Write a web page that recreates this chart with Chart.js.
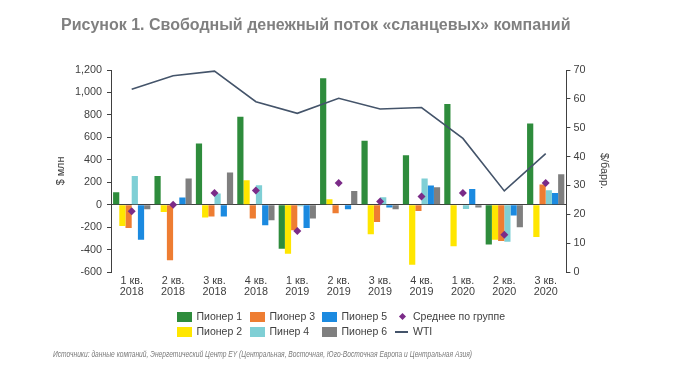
<!DOCTYPE html>
<html>
<head>
<meta charset="utf-8">
<script src="https://cdn.jsdelivr.net/npm/chart.js@4.4.1/dist/chart.umd.min.js"></script>
<style>
  html, body { margin: 0; padding: 0; background: #fff; }
  body { width: 700px; height: 379px; position: relative; overflow: hidden; font-family: 'Liberation Sans', Arial, sans-serif; }
  #wrap { position: absolute; left: 0; top: 0; width: 700px; height: 379px; }
  #title { position: absolute; left: 61px; top: 16px; font-size: 16px; font-weight: bold; color: #808080; white-space: nowrap; }
  #source { position: absolute; left: 53px; top: 349px; font-size: 9px; font-style: italic; color: #7a7a7a; white-space: nowrap; transform-origin: 0 50%; }
  .lg { position: absolute; font-size: 10.5px; color: #404040; white-space: nowrap; line-height: 12px; }
  .box { position: absolute; width: 15px; height: 10px; }
</style>
</head>
<body>
<div id="wrap"><canvas id="c" width="700" height="379"></canvas></div>
<div id="title">Рисунок 1. Свободный денежный поток «сланцевых» компаний</div>
<div id="legend"></div>
<div id="source">Источники: данные компаний, Энергетический Центр EY (Центральная, Восточная, Юго-Восточная Европа и Центральная Азия)</div>
<script>
const categories = [['1 кв.','2018'],['2 кв.','2018'],['3 кв.','2018'],['4 кв.','2018'],['1 кв.','2019'],['2 кв.','2019'],['3 кв.','2019'],['4 кв.','2019'],['1 кв.','2020'],['2 кв.','2020'],['3 кв.','2020']];
const pioneer1 = [110, 256, 545, 783, -392, 1126, 569, 441, 896, -355, 724];
const pioneer2 = [-190, -65, -115, 218, -437, 48, -264, -535, -371, -312, -288];
const pioneer3 = [-208, -496, -106, -124, -229, -77, -154, -56, 0, -324, 179];
const pioneer4 = [256, 5, 99, 173, -15, -5, 66, 233, -38, -330, 129];
const pioneer5 = [-312, 63, -106, -184, -208, -41, -26, 170, 140, -97, 105];
const pioneer6 = [-41, 233, 287, -139, -124, 122, -41, 155, -26, -202, 272];
const groupAverage = [-59, 0, 105, 126, -235, 194, 28, 72, 105, -267, 194];
const wti = [63.3, 68, 69.6, 59, 55, 60.2, 56.5, 57, 46.3, 28.1, 41];
const leftTicks = [-600, -400, -200, 0, 200, 400, 600, 800, 1000, 1200];
const rightTicks = [0, 10, 20, 30, 40, 50, 60, 70];

const C = {
  p1: '#2e8c3c', p2: '#ffe600', p3: '#ee7d32', p4: '#7fcfd5', p5: '#1b8ae0', p6: '#7f7f7f',
  avg: '#7b2b88', wti: '#44546a', axis: '#404040'
};
const FONT = "'Liberation Sans', Arial, sans-serif";

function bar(label, data, color) {
  return { type: 'bar', label, data, backgroundColor: color, borderWidth: 0,
           yAxisID: 'y', order: 2, categoryPercentage: 0.9, barPercentage: 1.0 };
}

const datasets = [
  bar('Пионер 1', pioneer1, C.p1),
  bar('Пионер 2', pioneer2, C.p2),
  bar('Пионер 3', pioneer3, C.p3),
  bar('Пинер 4', pioneer4, C.p4),
  bar('Пионер 5', pioneer5, C.p5),
  bar('Пионер 6', pioneer6, C.p6),
  { type: 'line', label: 'Среднее по группе', data: groupAverage, showLine: false, yAxisID: 'y', order: 0,
    pointStyle: 'rectRot', pointRadius: 4, pointHoverRadius: 4, backgroundColor: C.avg, borderColor: C.avg, borderWidth: 0 },
  { type: 'line', label: 'WTI', data: wti, yAxisID: 'y1', order: 1, borderColor: C.wti, borderWidth: 1.6,
    pointRadius: 0, tension: 0, fill: false }
];

new Chart(document.getElementById('c'), {
  data: { labels: categories, datasets },
  options: {
    responsive: false, animation: false,
    layout: { padding: { left: 50.4, right: 86, top: 70, bottom: 0 } },
    plugins: { legend: { display: false }, title: { display: false }, tooltip: { enabled: false } },
    scales: {
      x: {
        offset: true,
        grid: { display: false, drawTicks: false },
        border: { display: false },
        ticks: { color: C.axis, font: { family: FONT, size: 10.8, lineHeight: 1.0 }, padding: 3.5, maxRotation: 0, autoSkip: false },
        afterFit: s => { s.height = 107; }
      },
      y: {
        position: 'left', min: -600, max: 1200, z: 1,
        afterBuildTicks: s => { s.ticks = leftTicks.map(v => ({ value: v })); },
        ticks: { color: C.axis, font: { family: FONT, size: 10.8 }, padding: 5,
                 callback: v => v.toLocaleString('en-US') },
        grid: { color: ctx => (ctx.tick && ctx.tick.value === 0) ? C.axis : 'rgba(0,0,0,0)',
                tickColor: C.axis, tickLength: 4, lineWidth: 1 },
        border: { display: true, color: C.axis, width: 1 },
        title: { display: true, text: '$ млн', color: C.axis, font: { family: FONT, size: 10.8 } },
        afterFit: s => { s.width = 60.6; }
      },
      y1: {
        position: 'right', min: 0, max: 70,
        afterBuildTicks: s => { s.ticks = rightTicks.map(v => ({ value: v })); },
        ticks: { color: C.axis, font: { family: FONT, size: 10.8 }, padding: 3 },
        grid: { drawOnChartArea: false, tickColor: C.axis, tickLength: 4 },
        border: { display: true, color: C.axis, width: 1 },
        title: { display: true, text: '$/барр.', color: C.axis, font: { family: FONT, size: 10.8 } },
        afterFit: s => { s.width = 47.6; }
      }
    }
  }
});

// HTML legend (two rows, aligned columns), built from the datasets
const legendLayout = [
  { i: 0, x: 177, row: 0 }, { i: 2, x: 250, row: 0 }, { i: 4, x: 322, row: 0 }, { i: 6, x: 397, row: 0 },
  { i: 1, x: 177, row: 1 }, { i: 3, x: 250, row: 1 }, { i: 5, x: 322, row: 1 }, { i: 7, x: 395, row: 1 }
];
const rowY = [316.7, 331.7];
const lg = document.getElementById('legend');
legendLayout.forEach(it => {
  const ds = datasets[it.i];
  const cy = rowY[it.row];
  const mark = document.createElement('div');
  mark.style.position = 'absolute';
  let textX;
  if (ds.type === 'bar') {
    mark.className = 'box';
    mark.style.left = it.x + 'px'; mark.style.top = (cy - 5) + 'px';
    mark.style.background = ds.backgroundColor;
    textX = it.x + 19.5;
  } else if (ds.pointStyle === 'rectRot') {
    mark.style.width = '5px'; mark.style.height = '5px';
    mark.style.left = (it.x + 2.5) + 'px'; mark.style.top = (cy - 2.5) + 'px';
    mark.style.background = ds.backgroundColor; mark.style.transform = 'rotate(45deg)';
    textX = it.x + 16;
  } else {
    mark.style.width = '13px'; mark.style.height = '1.5px';
    mark.style.left = it.x + 'px'; mark.style.top = (cy - 0.5) + 'px';
    mark.style.background = ds.borderColor;
    textX = it.x + 18;
  }
  lg.appendChild(mark);
  const t = document.createElement('div');
  t.className = 'lg';
  t.textContent = ds.label;
  t.style.left = textX + 'px'; t.style.top = (cy - 6.5) + 'px';
  lg.appendChild(t);
});

// fit the source line to its width in the reference (x 53 .. 472)
const src = document.getElementById('source');
const w = src.getBoundingClientRect().width;
src.style.transform = 'scaleX(' + (419 / w).toFixed(4) + ')';
</script>
</body>
</html>
